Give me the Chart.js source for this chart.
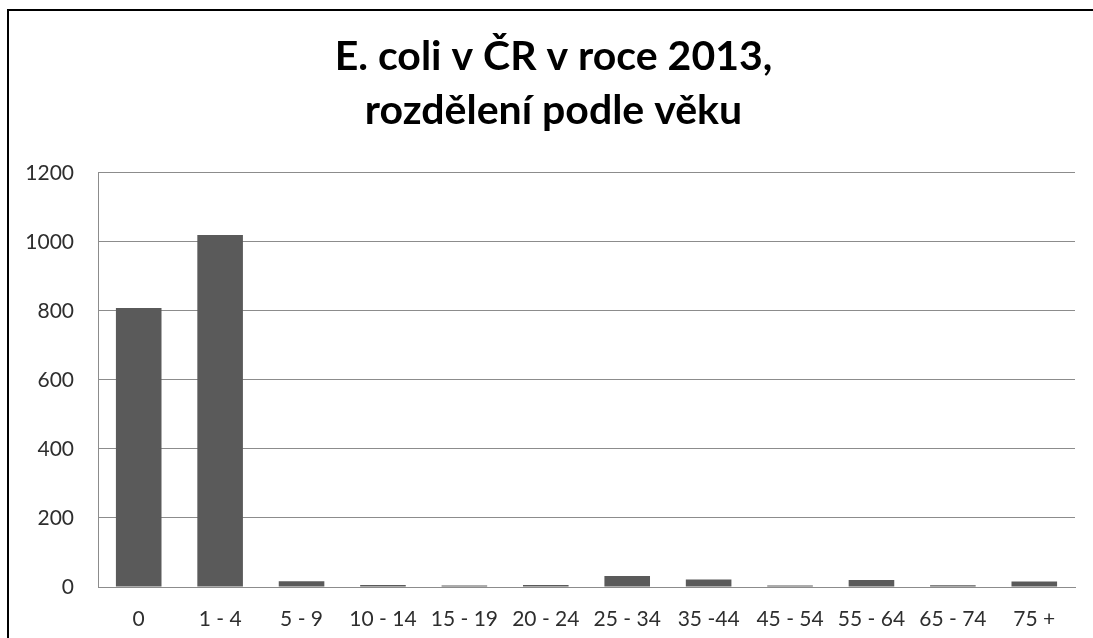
<!DOCTYPE html>
<html lang="cs">
<head>
    <meta charset="UTF-8">
    <title>E. coli v ČR v roce 2013</title>
    <script src="https://cdn.jsdelivr.net/npm/chart.js"></script>
    <style>
        html, body { margin: 0; padding: 0; background: #fff; }
        #obal { position: relative; width: 1093px; height: 638px; }
    </style>
</head>
<body>
    <div id="obal">
        <canvas id="graf" width="1093" height="638"></canvas>
    </div>

    <script>
        // data
        const vekoveSkupiny = ['0', '1 - 4', '5 - 9', '10 - 14', '15 - 19', '20 - 24', '25 - 34', '35 -44', '45 - 54', '55 - 64', '65 - 74', '75 +'];
        const pocetPripadu = [809, 1020, 17, 6, 4, 6, 32, 22, 4, 20, 5, 16];
        const osaY = [0, 200, 400, 600, 800, 1000, 1200];
        const nadpis = ['E. coli v ČR v roce 2013,', 'rozdělení podle věku'];

        const pismo = 'Lato, "Open Sans", sans-serif';

        // černý rámeček nahoře a vlevo, nadpis posunutý trochu doprava
        const ramecek = {
            id: 'ramecek',
            afterLayout(chart) {
                const t = chart.titleBlock;
                if (t) { t.left += 16; t.right += 16; }
            },
            afterDraw(chart) {
                const c = chart.ctx;
                c.save();
                c.strokeStyle = '#000';
                c.lineWidth = 2;
                c.beginPath();
                c.moveTo(8, 638);
                c.lineTo(8, 10);
                c.lineTo(1093, 10);
                c.stroke();
                c.restore();
            }
        };

        const ctx = document.getElementById('graf').getContext('2d');
        const graf = new Chart(ctx, {
            type: 'bar',
            data: {
                labels: vekoveSkupiny,
                datasets: [{
                    data: pocetPripadu,
                    backgroundColor: '#5a5a5a',
                    borderWidth: 0,
                    barPercentage: 0.56,
                    categoryPercentage: 1
                }]
            },
            options: {
                responsive: false,
                animation: false,
                layout: {
                    padding: { left: 0, right: 18, top: 0, bottom: 0 }
                },
                plugins: {
                    legend: { display: false },
                    tooltip: { enabled: false },
                    title: {
                        display: true,
                        text: nadpis,
                        color: '#000',
                        font: { family: pismo, size: 41, weight: 'bold', lineHeight: 1.317 },
                        padding: { top: 30, bottom: 35 }
                    }
                },
                scales: {
                    x: {
                        grid: { display: false, drawTicks: false },
                        border: { display: true, color: '#8c8c8c', width: 1 },
                        ticks: {
                            color: '#2e2e2e',
                            font: { family: pismo, size: 21 },
                            padding: 20,
                            maxRotation: 0,
                            autoSkip: false
                        },
                        afterFit(scale) { scale.height = 51; }
                    },
                    y: {
                        min: 0,
                        max: 1200,
                        afterBuildTicks(scale) {
                            scale.ticks = osaY.map(v => ({ value: v }));
                        },
                        grid: { color: '#8c8c8c', lineWidth: 1, drawTicks: false },
                        border: { display: true, color: '#8c8c8c', width: 1 },
                        ticks: {
                            color: '#2e2e2e',
                            font: { family: pismo, size: 21 },
                            padding: 24,
                            callback: v => String(v)
                        },
                        afterFit(scale) { scale.width = 98; }
                    }
                }
            },
            plugins: [ramecek]
        });
    </script>
</body>
</html>
